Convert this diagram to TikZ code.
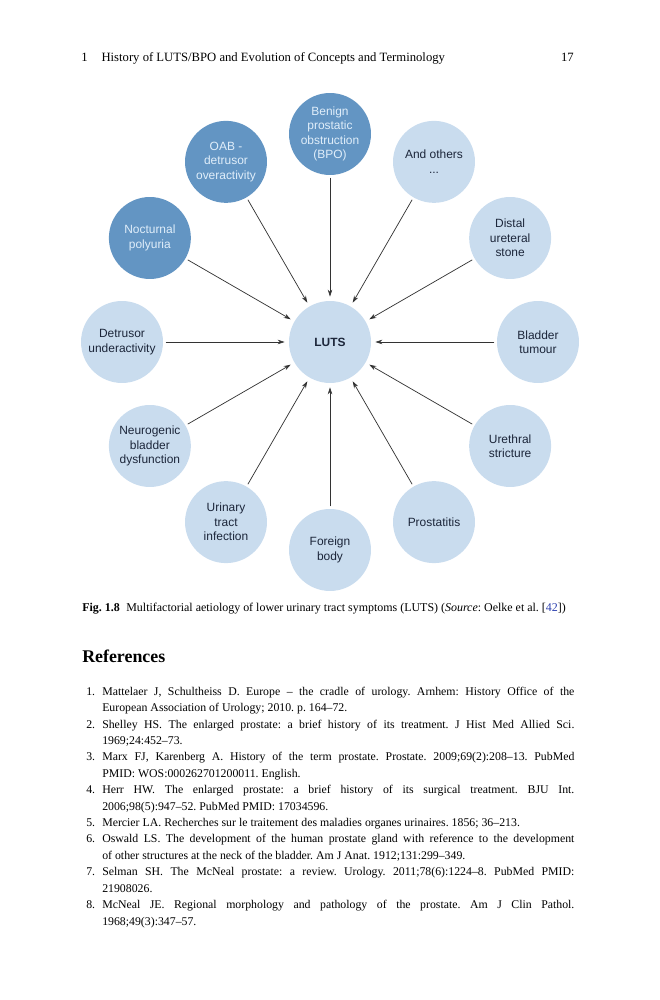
\documentclass[tikz,border=0pt]{standalone}
\usepackage{fontspec}
\setmainfont{Liberation Serif}
\newfontfamily\diagfont{Liberation Sans}
\usepackage{xcolor}
\usepackage{tikz}
\usetikzlibrary{arrows.meta}

\definecolor{darkcause}{RGB}{99,149,195}
\definecolor{lightcause}{RGB}{201,220,238}
\definecolor{darkcausetext}{RGB}{224,238,250}
\definecolor{lightcausetext}{RGB}{28,38,58}
\definecolor{linkblue}{RGB}{45,65,175}

\frenchspacing
\newcommand{\refentry}[2]{\par\noindent\hangindent=3.9mm\hangafter=1\makebox[3.9mm][l]{#1.}#2}

\begin{document}
\begin{tikzpicture}[x=0.244mm, y=0.244mm, font=\diagfont\fontsize{8.3}{10}\selectfont, >={Stealth[length=1.7mm, width=1.1mm]}]
\tikzstyle{cause}=[circle, minimum size=20mm, inner sep=0pt, align=center]
\tikzstyle{major}=[cause, fill=darkcause, text=darkcausetext]
\tikzstyle{minor}=[cause, fill=lightcause, text=lightcausetext]
\tikzstyle{feed}=[->, draw=black!80, line width=0.5pt, shorten <=0.6mm, shorten >=1mm]
\tikzstyle{page}=[inner sep=0pt, font=\frenchspacing\fontsize{8.2}{11.4}\selectfont]
\useasboundingbox (0,0) rectangle (659,1000);

\node[minor, font=\diagfont\bfseries\fontsize{8.3}{10}\selectfont] (luts) at (330,658) {LUTS};

\begin{scope}[shift={(330,658)}]
\node[major] (bpo) at (90:208) {Benign\\prostatic\\obstruction\\(BPO)};
\node[major] (oab) at (120:208) {OAB -\\detrusor\\overactivity};
\node[major] (nocturnal) at (150:208) {Nocturnal\\polyuria};
\node[minor] (others) at (60:208) {And others\\...};
\node[minor] (stone) at (30:208) {Distal\\ureteral\\stone};
\node[minor] (tumour) at (0:208) {Bladder\\tumour};
\node[minor] (stricture) at (-30:208) {Urethral\\stricture};
\node[minor] (prostatitis) at (-60:208) {Prostatitis};
\node[minor] (foreign) at (-90:208) {Foreign\\body};
\node[minor] (infection) at (-120:208) {Urinary\\tract\\infection};
\node[minor] (neurogenic) at (-150:208) {Neurogenic\\bladder\\dysfunction};
\node[minor] (underactivity) at (180:208) {Detrusor\\underactivity};
\end{scope}

\foreach \c in {bpo, oab, nocturnal, others, stone, tumour, stricture, prostatitis, foreign, infection, neurogenic, underactivity}
  \draw[feed] (\c) -- (luts);

\node[page, anchor=base west, font=\fontsize{8.8}{11}\selectfont] (runhead) at (81,938) {1\hspace{3.4mm}History of LUTS/BPO and Evolution of Concepts and Terminology};
\node[page, anchor=base east, font=\fontsize{8.8}{11}\selectfont] (folio) at (574,938) {17};

\node[page, anchor=base west, font=\frenchspacing\fontsize{8.3}{11}\selectfont] (caption) at (82,388) {\textbf{Fig. 1.8}\hspace{1.6mm}Multifactorial aetiology of lower urinary tract symptoms (LUTS) (\textit{Source}: Oelke et al. [\textcolor{linkblue}{42}])};

\node[page, anchor=base west, font=\bfseries\fontsize{12.4}{14}\selectfont] (refhead) at (82,337) {References};

\node[page, anchor=north west, text width=119.1mm, align=justify] (reflist) at (86,321.5) {%
\refentry{1}{Mattelaer J, Schultheiss D. Europe -- the cradle of urology. Arnhem: History Office of the\linebreak European Association of Urology; 2010. p. 164--72.}
\refentry{2}{Shelley HS. The enlarged prostate: a brief history of its treatment. J Hist Med Allied Sci.\linebreak 1969;24:452--73.}
\refentry{3}{Marx FJ, Karenberg A. History of the term prostate. Prostate. 2009;69(2):208--13. PubMed\linebreak PMID: WOS:000262701200011. English.}
\refentry{4}{Herr HW. The enlarged prostate: a brief history of its surgical treatment. BJU Int.\linebreak 2006;98(5):947--52. PubMed PMID: 17034596.}
\refentry{5}{Mercier LA. Recherches sur le traitement des maladies organes urinaires. 1856; 36--213.}
\refentry{6}{Oswald LS. The development of the human prostate gland with reference to the development\linebreak of other structures at the neck of the bladder. Am J Anat. 1912;131:299--349.}
\refentry{7}{Selman SH. The McNeal prostate: a review. Urology. 2011;78(6):1224--8. PubMed PMID:\linebreak 21908026.}
\refentry{8}{McNeal JE. Regional morphology and pathology of the prostate. Am J Clin Pathol.\linebreak 1968;49(3):347--57.}\par};
\end{tikzpicture}
\end{document}
